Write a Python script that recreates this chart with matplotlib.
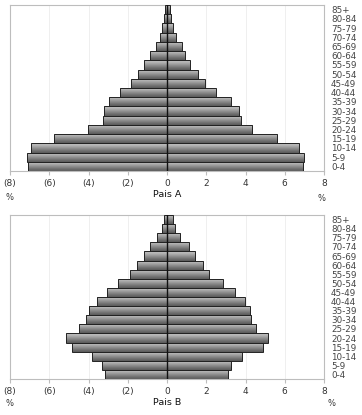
import numpy as np
import matplotlib
matplotlib.use("Agg")
import matplotlib.pyplot as plt
from matplotlib.colors import LinearSegmentedColormap

age_groups = ["0-4", "5-9", "10-14", "15-19", "20-24", "25-29", "30-34", "35-39",
              "40-44", "45-49", "50-54", "55-59", "60-64", "65-69", "70-74",
              "75-79", "80-84", "85+"]

# Country A (left = males, right = females), % of population
a_left = [7.09, 7.13, 6.94, 5.75, 4.01, 3.25, 3.2, 2.96, 2.4, 1.84, 1.5, 1.16,
          0.86, 0.54, 0.37, 0.24, 0.17, 0.08]
a_right = [6.94, 6.97, 6.73, 5.61, 4.34, 3.76, 3.65, 3.24, 2.48, 1.92, 1.58, 1.15,
           0.9, 0.75, 0.47, 0.3, 0.22, 0.17]

# Country B
b_left = [3.16, 3.32, 3.83, 4.85, 5.14, 4.47, 4.13, 3.96, 3.57, 3.06, 2.48, 1.87,
          1.55, 1.17, 0.87, 0.51, 0.24, 0.17]
b_right = [3.11, 3.27, 3.83, 4.9, 5.15, 4.56, 4.29, 4.22, 3.95, 3.45, 2.84, 2.16,
           1.84, 1.44, 1.1, 0.68, 0.39, 0.3]

xticks = [-8, -6, -4, -2, 0, 2, 4, 6, 8]
xticklabels = ["(8)", "(6)", "(4)", "(2)", "0", "2", "4", "6", "8"]
titles = ["Pais A", "Pais B"]

W, H = 362, 415
fig = plt.figure(figsize=(W / 100, H / 100), dpi=100)
fig.patch.set_facecolor("white")

grad_cmap = LinearSegmentedColormap.from_list(
    "g", ["#5a5a5a", "#747474", "#939393", "#b2b2b2", "#c0c0c0"])
grad = np.linspace(0, 1, 64).reshape(-1, 1)

frame_col = "#bdbdbd"
text_col = "#333333"

def draw(ax, left, right, title):
    y = np.arange(len(age_groups))
    ax.set_xlim(-8, 8)
    ax.set_ylim(-0.5, len(age_groups) - 0.5)
    ax.set_xticks(xticks)
    ax.grid(axis="x", color="#ededed", linewidth=0.6, zorder=0)
    ax.set_axisbelow(True)
    for vals, sign in ((left, -1), (right, 1)):
        bars = ax.barh(y, [sign * v for v in vals], height=1.0, left=0,
                       facecolor="none", edgecolor="#222222", linewidth=0.7,
                       zorder=3)
        for b in bars:
            x0 = b.get_x()
            x1 = x0 + b.get_width()
            y0 = b.get_y()
            y1 = y0 + b.get_height()
            im = ax.imshow(grad, extent=(min(x0, x1), max(x0, x1), y0, y1),
                           origin="lower", aspect="auto", cmap=grad_cmap,
                           interpolation="bilinear", zorder=2)
            im.set_clip_path(b)
    ax.set_xlim(-8, 8)
    ax.set_ylim(-0.5, len(age_groups) - 0.5)
    ax.axvline(0, color="#111111", linewidth=1.0, zorder=4)
    for s in ax.spines.values():
        s.set_color(frame_col)
        s.set_linewidth(0.8)
    ax.set_xticklabels(xticklabels, fontsize=6.5, color=text_col)
    ax.tick_params(axis="x", length=3, color=frame_col, pad=3)
    ax.yaxis.tick_right()
    ax.set_yticks(y)
    ax.set_yticklabels(age_groups, fontsize=6.3, color="#444444")
    ax.tick_params(axis="y", length=0, pad=5)
    ax.set_title(title, y=-0.115, fontsize=6.8, color="#111111", pad=0,
                 loc="center", va="top")

ax1 = fig.add_axes([10 / W, 1 - 171 / H, 314 / W, 166 / H])
draw(ax1, a_left, a_right, titles[0])
ax2 = fig.add_axes([10 / W, 1 - 379 / H, 314 / W, 164 / H])
draw(ax2, b_left, b_right, titles[1])

for ypix_l, ypix_r, xr in ((197, 198, 321), (403, 403, 331)):
    fig.text(5 / W, 1 - ypix_l / H, "%", fontsize=6, color=text_col,
             ha="left", va="center")
    fig.text(xr / W, 1 - ypix_r / H, "%", fontsize=6, color=text_col,
             ha="center", va="center")

fig.savefig("out.png", dpi=100, facecolor="white")
